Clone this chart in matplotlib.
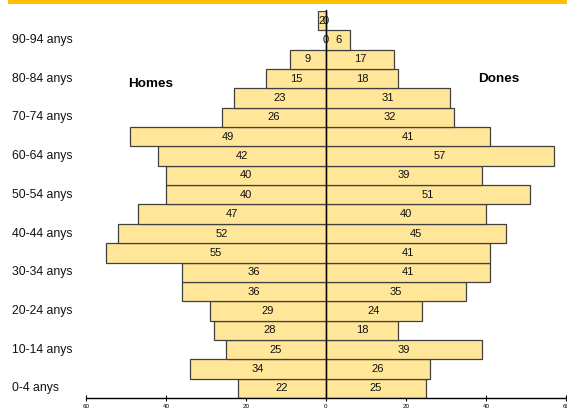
import matplotlib
matplotlib.use("Agg")
import matplotlib.pyplot as plt
import matplotlib.transforms as mtransforms
from matplotlib.patches import Rectangle

plt.rcParams['font.family'] = ['Liberation Sans', 'DejaVu Sans']

age_groups = ["0-4", "5-9", "10-14", "15-19", "20-24", "25-29", "30-34", "35-39",
              "40-44", "45-49", "50-54", "55-59", "60-64", "65-69", "70-74", "75-79",
              "80-84", "85-89", "90-94", "95+"]
homes = [22, 34, 25, 28, 29, 36, 36, 55, 52, 47, 40, 40, 42, 49, 26, 23, 15, 9, 0, 2]
dones = [25, 26, 39, 18, 24, 35, 41, 41, 45, 40, 51, 39, 57, 41, 32, 31, 18, 17, 6, 0]
xticks = [-60, -40, -20, 0, 20, 40, 60]
xtick_labels = ["60", "40", "20", "0", "20", "40", "60"]

fig = plt.figure(figsize=(5.67, 4.12), dpi=100)
fig.patch.set_facecolor("white")

# Orange title band at the very top (title text is cut off in the reference)
fig.patches.append(Rectangle((8 / 567, 1 - 3.5 / 412), 1, 3.5 / 412, transform=fig.transFigure,
                             facecolor="#FFC000", edgecolor="none", zorder=0))

ax = fig.add_axes([86 / 567, 14 / 412, 480 / 567, 387 / 412])
ax.set_xlim(-60, 60)
ax.set_ylim(-0.5, len(age_groups) - 0.5)

ypos = list(range(len(age_groups)))
fill = "#FFE699"
edge = "#404040"
ax.barh(ypos, [-h for h in homes], height=1.0, color=fill, edgecolor=edge, linewidth=0.9, zorder=2)
ax.barh(ypos, dones, height=1.0, color=fill, edgecolor=edge, linewidth=0.9, zorder=2)

for y, h, d in zip(ypos, homes, dones):
    ax.text(-h / 2, y, str(h), ha="center", va="center", fontsize=8, color="#111111", zorder=4)
    ax.text(d / 2, y, str(d), ha="center", va="center", fontsize=8, color="#111111", zorder=4)

ax.axvline(0, color="black", linewidth=1.0, zorder=3, ymin=0, ymax=1.003, clip_on=False)

for side in ["left", "right", "top"]:
    ax.spines[side].set_visible(False)
ax.spines["bottom"].set_linewidth(1.0)
ax.set_xticks(xticks)
ax.set_xticklabels(xtick_labels, fontsize=4.5)
ax.tick_params(axis="x", direction="inout", length=5, width=0.8, pad=2)
ax.set_yticks([])

trans = mtransforms.blended_transform_factory(fig.transFigure, ax.transData)
for y, lab in zip(ypos, age_groups):
    if y % 2 == 0:
        ax.text(12 / 567, y, lab + " anys", transform=trans, ha="left", va="center",
                fontsize=8.8, color="#111111")

ax.text(-43.9, 15.75, "Homes", ha="center", va="center", fontsize=9.7, fontweight="bold")
ax.text(43.2, 16.0, "Dones", ha="center", va="center", fontsize=9.7, fontweight="bold")

fig.savefig("out.png", dpi=100)
